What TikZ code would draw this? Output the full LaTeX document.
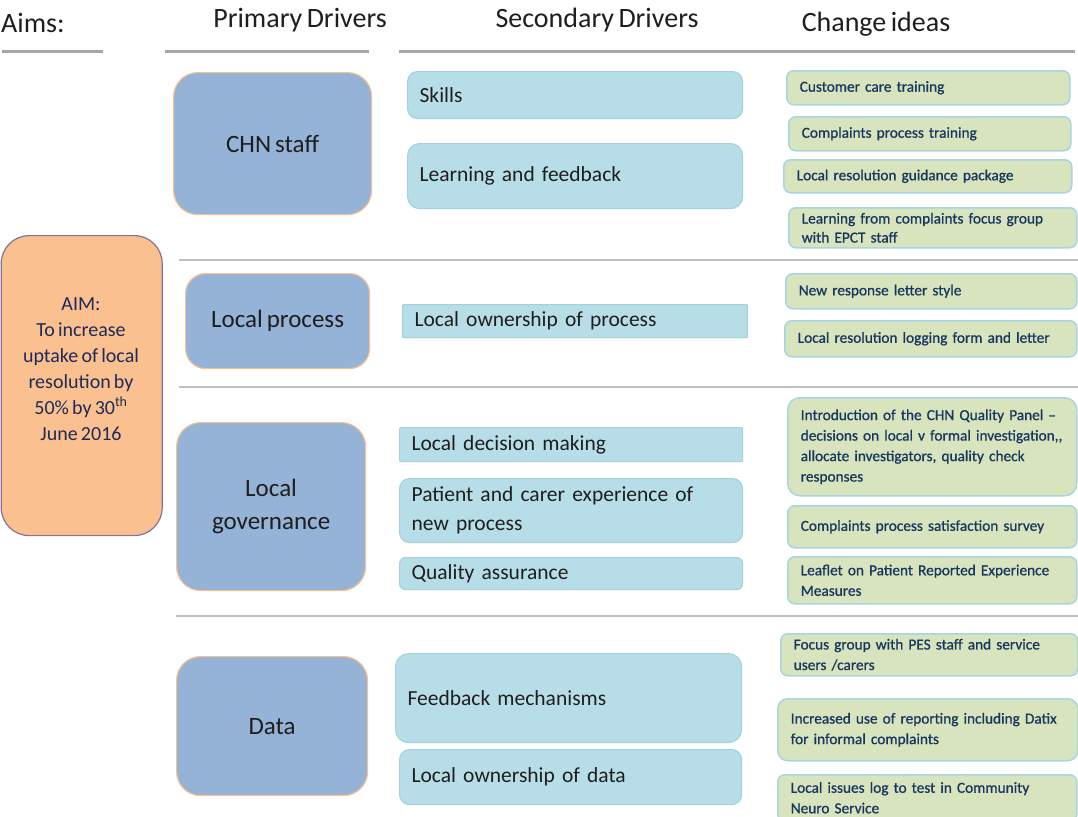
\documentclass[tikz,border=0pt]{standalone}
\usepackage{fontspec}
\setmainfont[WordSpace=0.7]{Carlito}
\newfontfamily\chgfont[WordSpace=0.55, FakeBold=0.8]{Carlito}
\definecolor{primfill}{HTML}{95B3D7}
\definecolor{primborder}{HTML}{F9C18F}
\definecolor{secfill}{HTML}{B7DEE8}
\definecolor{secborder}{HTML}{A3D2DF}
\definecolor{chgfill}{HTML}{D7E4BD}
\definecolor{chgborder}{HTML}{A8D5E2}
\definecolor{aimfill}{HTML}{FAC090}
\definecolor{aimborder}{HTML}{86729A}
\definecolor{txt}{HTML}{1E1E1E}
\definecolor{navy}{HTML}{17375E}
\definecolor{aimtxt}{HTML}{1F2B57}
\definecolor{hdrline}{HTML}{A6A6A6}
\definecolor{sepline}{HTML}{BFBFBF}
\begin{document}
\begin{tikzpicture}[x=1pt,y=-1pt,
  prim/.style={draw=primborder, fill=primfill, line width=1.2pt, rounded corners=24pt, anchor=north west, align=center, text=txt, font=\fontsize{25}{33}\selectfont, inner sep=0pt},
  sec/.style={draw=secborder, fill=secfill, line width=1.2pt, rounded corners=10pt, anchor=north west, align=left, text=txt, font=\fontsize{21.5}{29}\selectfont, inner xsep=12pt, inner ysep=0pt},
  chg/.style={draw=chgborder, fill=chgfill, line width=1.5pt, rounded corners=7pt, anchor=north west, align=left, text=navy, font=\chgfont\fontsize{15.3}{20.5}\selectfont, inner xsep=13pt, inner ysep=0pt},
  aimbox/.style={draw=aimborder, fill=aimfill, line width=1.2pt, rounded corners=28pt, anchor=north west, inner sep=0pt},
  hdr/.style={font=\fontsize{28}{32}\selectfont, text=txt, inner sep=0pt},
  hline/.style={draw=hdrline, line width=3pt},
  sepl/.style={draw=sepline, line width=1.5pt}]
\useasboundingbox (0,0) rectangle (1078,816);

% headers
\node[hdr, anchor=base west] (haims) at (1,33) {Aims:};
\node[hdr, anchor=base] (hprim) at (300,28) {Primary Drivers};
\node[hdr, anchor=base] (hsec) at (597,28) {Secondary Drivers};
\node[hdr, anchor=base] (hchg) at (876,32) {Change ideas};
\coordinate (l1a) at (2,52); \coordinate (l1b) at (103,52);
\coordinate (l2a) at (165,52); \coordinate (l2b) at (369,52);
\coordinate (l3a) at (399,52); \coordinate (l3b) at (1075,52);
\draw[hline] (l1a) -- (l1b);
\draw[hline] (l2a) -- (l2b);
\draw[hline] (l3a) -- (l3b);

% separators
\coordinate (s1a) at (179,260); \coordinate (s1b) at (1078,260);
\coordinate (s2a) at (179,387); \coordinate (s2b) at (1078,387);
\coordinate (s3a) at (176,616); \coordinate (s3b) at (1078,616);
\draw[sepl] (s1a) -- (s1b);
\draw[sepl] (s2a) -- (s2b);
\draw[sepl] (s3a) -- (s3b);

% aim
\node[aimbox, minimum width=161pt, minimum height=300pt] (aim) at (0.6,235) {};
\node[align=center, text=aimtxt, font=\fontsize{20}{26}\selectfont, inner sep=0pt] (aimtext) at (81,369)
  {AIM:\\To increase\\uptake of local\\resolution by\\50\% by 30\textsuperscript{th}\\June 2016};

% primary drivers
\node[prim, minimum width=198pt, minimum height=142pt] (p1) at (173,72) {CHN staff};
\node[prim, minimum width=184pt, minimum height=95pt, rounded corners=20pt] (p2) at (185,273) {Local process};
\node[prim, minimum width=189pt, minimum height=168pt] (p3) at (176,422) {Local\\governance};
\node[prim, minimum width=191pt, minimum height=139pt] (p4) at (176,656) {Data};

% secondary drivers
\node[sec, minimum width=335pt, text width=311pt, minimum height=47pt] (d1) at (407,71) {Skills};
\node[sec, minimum width=335pt, text width=311pt, minimum height=65pt, rounded corners=12pt] (d2) at (407,143) {Learning and feedback};
\node[sec, minimum width=345pt, text width=321pt, minimum height=33pt, rounded corners=1pt] (d3) at (402,304) {Local ownership of process};
\node[sec, minimum width=343pt, text width=319pt, minimum height=34pt, rounded corners=1pt] (d4) at (399,427) {Local decision making};
\node[sec, minimum width=343pt, text width=319pt, minimum height=64pt] (d5) at (399,478) {Patient and carer experience of\\new process};
\node[sec, minimum width=343pt, text width=319pt, minimum height=32pt, rounded corners=6pt] (d6) at (399,557) {Quality assurance};
\node[sec, minimum width=346pt, text width=322pt, minimum height=89pt, rounded corners=13pt] (d7) at (395,653) {Feedback mechanisms};
\node[sec, minimum width=342pt, text width=318pt, minimum height=55pt] (d8) at (399,749) {Local ownership of data};

% change ideas
\node[chg, minimum width=283pt, text width=257pt, minimum height=34pt] (c1) at (786,70) {Customer care training};
\node[chg, minimum width=282pt, text width=256pt, minimum height=34pt] (c2) at (788,116) {Complaints process training};
\node[chg, minimum width=288pt, text width=262pt, minimum height=33pt] (c3) at (783,159) {Local resolution guidance package};
\node[chg, minimum width=288pt, text width=262pt, minimum height=40pt, font=\chgfont\fontsize{15.3}{19}\selectfont] (c4) at (788,207) {Learning from complaints focus group\\with EPCT staff};
\node[chg, minimum width=291pt, text width=265pt, minimum height=35pt] (c5) at (785,273) {New response letter style};
\node[chg, minimum width=292pt, text width=266pt, minimum height=36pt] (c6) at (784,320) {Local resolution logging form and letter};
\node[chg, minimum width=289pt, text width=263pt, minimum height=98pt, rounded corners=12pt] (c7) at (787,397) {Introduction of the CHN Quality Panel \textendash\\decisions on local v formal investigation,,\\allocate investigators, quality check\\responses};
\node[chg, minimum width=289pt, text width=263pt, minimum height=42pt] (c8) at (787,505) {Complaints process satisfaction survey};
\node[chg, minimum width=289pt, text width=263pt, minimum height=47pt] (c9) at (787,556) {Leaflet on Patient Reported Experience\\Measures};
\node[chg, minimum width=297pt, text width=271pt, minimum height=42pt] (c10) at (780,633) {Focus group with PES staff and service\\users /carers};
\node[chg, minimum width=300pt, text width=274pt, minimum height=62pt, rounded corners=10pt] (c11) at (777,698) {Increased use of reporting including Datix\\for informal complaints};
\node[chg, minimum width=299pt, text width=273pt, minimum height=46pt] (c12) at (777,774) {Local issues log to test in Community\\Neuro Service};
\end{tikzpicture}
\end{document}
